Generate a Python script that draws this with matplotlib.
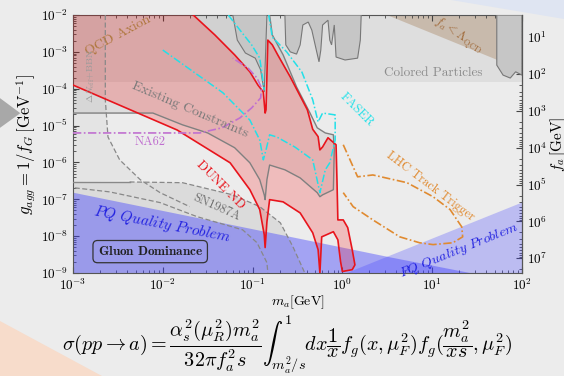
import numpy as np
import matplotlib.pyplot as plt
from matplotlib.patches import Polygon

plt.rcParams['font.family'] = 'serif'
plt.rcParams['font.serif'] = ['cmr10', 'DejaVu Serif']
plt.rcParams['mathtext.fontset'] = 'cm'
plt.rcParams['axes.formatter.use_mathtext'] = True

# g_agg = C_FA / f_a
C_FA = 10 ** -1.6

# every curve: log10(m_a/GeV), log10(g_agg GeV)
colored_lg = -3.82

dune_lm = [-3.00, -1.84, -1.25, -1.03, -0.92, -0.87, -0.86, -0.84, -0.81, -0.66, -0.47, -0.33,
           -0.27, -0.25, -0.23, -0.10, -0.05, -0.02, 0.00, 0.11, 0.14, 0.11, 0.06, 0.01, -0.05,
           -0.06, -0.07, -0.16, -0.22, -0.25, -0.27, -0.33, -0.39, -0.58, -0.72, -0.78, -0.83,
           -0.85, -0.86, -0.88, -0.94, -1.03, -1.20, -1.42, -1.66]
dune_lg = [-3.90, -5.12, -6.01, -6.74, -7.28, -7.96, -8.31, -7.61, -7.01, -7.07, -7.37, -7.91,
           -8.37, -9.00, -8.02, -7.88, -8.10, -8.69, -8.96, -8.91, -8.78, -8.37, -7.77, -7.56, -7.56,
           -6.47, -5.52, -5.33, -5.58, -5.66, -5.30, -5.10, -4.57, -3.68, -3.08, -2.81, -2.68,
           -4.57, -4.66, -4.09, -3.90, -3.54, -3.08, -2.54, -2.00]

exist_lm = [-3.00, -2.11, -1.78, -1.50, -1.20, -1.03, -0.92, -0.87, -0.86, -0.84, -0.81, -0.64,
            -0.47, -0.28, -0.25, -0.22, -0.10, -0.09, -0.10, -0.19, -0.28, -0.36, -0.51, -0.66,
            -0.78, -0.81]
exist_lg = [-4.66, -4.66, -4.98, -5.20, -5.60, -6.01, -6.47, -6.88, -7.01, -6.47, -6.07, -6.20,
            -6.42, -6.82, -6.93, -6.88, -6.74, -5.66, -5.25, -5.20, -5.06, -4.66, -3.95, -3.08,
            -2.54, -2.00]

hang1_lm = [-1.22, -1.17, -1.08, -0.97, -0.91, -0.87, -0.85, -0.84]
hang1_lg = [-2.00, -2.68, -3.03, -3.17, -3.49, -4.09, -2.68, -2.00]
hang2_lm = [-0.64, -0.63, -0.58, -0.51, -0.47, -0.44, -0.38, -0.34, -0.29, -0.26, -0.24, -0.22,
            -0.16, -0.14, -0.12, -0.09, -0.07, 0.03, 0.17, 0.20, 0.21]
hang2_lg = [-2.00, -2.81, -3.00, -3.06, -2.81, -2.27, -2.19, -2.41, -2.95, -3.27, -2.95, -2.27,
            -2.14, -2.68, -2.81, -2.27, -3.14, -3.22, -3.17, -2.68, -2.00]
hang3_lm = [1.72, 1.72, 1.79, 1.87, 1.93, 2.00, 2.00]
hang3_lg = [-2.00, -3.36, -3.63, -3.71, -3.54, -3.63, -2.00]

lqcd_lm = [0.50, 2.00, 2.00]
lqcd_lg = [-2.00, -2.00, -3.49]

faser_lm = [-2.00, -1.33, -1.03, -0.92, -0.88, -0.85, -0.81, -0.73, -0.53, -0.33, -0.25, -0.19,
            -0.14, -0.08, -0.08, -0.22, -0.27, -0.33, -0.45, -0.62, -0.78, -0.82]
faser_lg = [-2.95, -4.11, -4.85, -5.39, -5.93, -5.66, -5.25, -5.31, -5.58, -5.93, -6.82, -6.20,
            -6.01, -5.39, -4.71, -4.66, -4.90, -4.30, -3.55, -3.00, -2.60, -2.00]
faser2_lm = [-1.27, -1.14, -1.01, -0.92, -0.87]
faser2_lg = [-2.00, -2.41, -2.81, -3.17, -4.03]

na62_lm = [-3.00, -1.59, -1.34, -1.14, -1.01, -0.91, -0.90, -0.95, -1.05, -1.22]
na62_lg = [-5.20, -5.20, -5.06, -4.79, -4.52, -4.25, -3.98, -3.71, -3.44, -3.17]

sn_up_lm = [-3.00, -2.37, -1.78, -1.22, -0.92, -0.69, -0.55, -0.42]
sn_up_lg = [-6.53, -6.53, -6.55, -6.88, -7.20, -7.64, -8.29, -8.99]
sn_lo_lm = [-2.98, -2.59, -2.03, -1.62, -1.11, -0.95, -0.84, -0.83]
sn_lo_lg = [-6.69, -6.80, -7.09, -7.47, -7.83, -8.18, -8.72, -8.99]
bbn_lm = [-2.64, -2.64, -2.61, -2.48, -2.25, -2.03, -1.70]
bbn_lg = [-2.00, -4.30, -5.31, -5.93, -6.47, -6.82, -7.20]

pq_left_lm = [-3.00, -3.00, -0.58, 0.50, 1.42]
pq_left_lg = [-9.00, -6.82, -8.02, -8.56, -9.00]
pq_right_lm = [0.05, 2.00, 2.00]
pq_right_lg = [-9.00, -7.09, -9.00]

lhc_lm = [0.01, 0.17, 0.34, 0.72, 1.01, 1.20, 1.33, 1.34, 1.23, 1.01, 0.86, 0.64, 0.34, 0.12, 0.01]
lhc_lg = [-5.52, -6.39, -6.34, -6.55, -6.93, -7.28, -7.75, -8.02, -8.18, -8.23, -8.18, -8.02,
          -7.56, -7.20, -6.82]


def pts(lm, lg):
    return 10 ** np.array(lm), 10 ** np.array(lg)


def poly(ax, lm, lg, **kw):
    m, g = pts(lm, lg)
    ax.add_patch(Polygon(np.column_stack([m, g]), closed=True, **kw))


bg = '#ececec'
fig = plt.figure(figsize=(5.64, 3.76), dpi=100, facecolor=bg)

# slide decorations
fig.patches.append(Polygon([[0, 0.739], [0.036, 0.699], [0, 0.660]], closed=True,
                           transform=fig.transFigure, fc='#a8a8a8', ec='none'))
fig.patches.append(Polygon([[0, 0.145], [0, 0], [0.18, 0]], closed=True,
                           transform=fig.transFigure, fc='#f7dccb', ec='none'))
fig.patches.append(Polygon([[0.80, 1], [1, 1], [1, 0.95]], closed=True,
                           transform=fig.transFigure, fc='#dfe5f2', ec='none'))

ax = fig.add_axes([0.1294, 0.274, 0.796, 0.686])
ax.set_facecolor(bg)
ax.set_xscale('log')
ax.set_yscale('log')
ax.set_xlim(1e-3, 1e2)
ax.set_ylim(1e-9, 1e-2)

# regions
ax.axhspan(10 ** colored_lg, 1e-2, color='#808080', alpha=0.12, lw=0, zorder=1)
poly(ax, lqcd_lm, lqcd_lg, fc='#a07850', alpha=0.35, ec='none', zorder=1)
poly(ax, bbn_lm[:5] + [-3.0, -3.0], bbn_lg[:5] + [-6.53, -2.0],
     fc='#808080', alpha=0.07, ec='none', zorder=1)
poly(ax, exist_lm + [-3.0], exist_lg + [-2.0], fc='#808080', alpha=0.13, ec='none', zorder=1)
poly(ax, sn_up_lm + [-3.0], sn_up_lg + [-9.0], fc='#808080', alpha=0.15, ec='none', zorder=1)
poly(ax, pq_left_lm, pq_left_lg, fc='#4040ff', alpha=0.42, ec='none', zorder=2)
poly(ax, pq_right_lm, pq_right_lg, fc='#4040ff', alpha=0.28, ec='none', zorder=2)
poly(ax, dune_lm + [-3.0], dune_lg + [-2.0], fc='red', alpha=0.2, ec='none', zorder=3)
for lm, lg in [(hang1_lm, hang1_lg), (hang2_lm, hang2_lg), (hang3_lm, hang3_lg)]:
    poly(ax, lm, lg, fc='#c6c6c6', ec='#777777', lw=0.8, zorder=3)

# curves
ax.plot(*pts(exist_lm, exist_lg), color='#808080', lw=1.0, zorder=4)
ax.plot(*pts(sn_up_lm[:2], sn_up_lg[:2]), color='#888888', lw=1.0, zorder=4)
ax.plot(*pts(sn_up_lm[1:], sn_up_lg[1:]), color='#888888', lw=0.9, ls=(0, (4, 2)), zorder=4)
ax.plot(*pts(sn_lo_lm, sn_lo_lg), color='#888888', lw=0.9, ls=(0, (4, 2)), zorder=4)
ax.plot(*pts(bbn_lm, bbn_lg), color='#888888', lw=0.9, ls=(0, (4, 2)), zorder=4)
ax.plot(*pts(dune_lm, dune_lg), color='#e8141c', lw=1.2, zorder=5)
dashdot = (0, (5, 1.5, 1, 1.5))
ax.plot(*pts(faser_lm, faser_lg), color='#22e0e8', lw=1.1, ls=dashdot, zorder=6)
ax.plot(*pts(faser2_lm, faser2_lg), color='#22e0e8', lw=1.1, ls=dashdot, zorder=6)
ax.plot(*pts(na62_lm, na62_lg), color='#c070d0', lw=1.2, ls=dashdot, zorder=6)
ax.plot(*pts(lhc_lm, lhc_lg), color='#e08a30', lw=1.2, ls=dashdot, zorder=6)


# labels in plot
def lab(lm, lg, s, **kw):
    ax.text(10 ** lm, 10 ** lg, s, ha='center', va='center', zorder=7, **kw)


lab(-1.70, -4.57, 'Existing Constraints', rotation=-23, fontsize=10, color='#7a7a7a')
lab(-1.36, -6.62, 'DUNE ND', rotation=-45, fontsize=9.5, color='#e8141c')
lab(-1.40, -7.23, 'SN1987A', rotation=-24, fontsize=9, color='#707070')
lab(-2.00, -7.69, r'$\mathit{PQ\ Quality\ Problem}$', rotation=-11, fontsize=11, color='#2020e0')
lab(1.30, -8.40, r'$\mathit{PQ\ Quality\ Problem}$', rotation=22, fontsize=10, color='#2020e0')
lab(0.16, -4.57, 'FASER', rotation=-45, fontsize=9, color='#22e0e8')
lab(-2.14, -5.44, 'NA62', fontsize=9, color='#c070d0')
lab(-2.50, -2.57, 'QCD Axion', rotation=28, fontsize=10, color='#b07840')
lab(1.29, -2.57, r'$f_a < \Lambda_{\rm QCD}$', rotation=-33, fontsize=9, color='#a06a3a')
lab(1.01, -3.57, 'Colored Particles', fontsize=9.5, color='#8c8c8c')
lab(0.98, -6.66, 'LHC Track Trigger', rotation=-37, fontsize=9, color='#e08a30')
lab(-2.80, -3.65, r'$\Delta N_{\rm eff}$+BBN', rotation=90, fontsize=7, color='#9a9a9a')
lab(-2.14, -8.42, r'$\mathbf{Gluon\ Dominance}$', fontsize=9.5, color='#222222',
    bbox=dict(boxstyle='round,pad=0.35', fc='none', ec='#333333', lw=0.9))

# axes
ax.tick_params(which='both', direction='in', top=True, right=False, labelsize=9.5, color='#444444')
ax.tick_params(which='major', length=4)
ax.tick_params(which='minor', length=2)
for sp in ax.spines.values():
    sp.set_color('#555555')
ax.set_xlabel(r'$m_a[\mathrm{GeV}]$', fontsize=10, labelpad=0)
ax.set_ylabel(r'$g_{agg} = 1/f_G\,[\mathrm{GeV}^{-1}]$', fontsize=12, labelpad=2)


def fa_from_g(g):
    g = np.asarray(g, dtype=float)
    with np.errstate(divide='ignore'):
        return C_FA / g


sec = ax.secondary_yaxis('right', functions=(fa_from_g, fa_from_g))
sec.tick_params(which='both', direction='in', labelsize=9.5, color='#444444')
sec.tick_params(which='major', length=4)
sec.tick_params(which='minor', length=2)
sec.set_ylabel(r'$f_a\,[\mathrm{GeV}]$', fontsize=11, labelpad=1)
sec.yaxis.get_offset_text().set_visible(False)
ax.yaxis.get_offset_text().set_visible(False)

eq = (r'$\sigma(pp\rightarrow a) = \dfrac{\alpha_s^2(\mu_R^2)m_a^2}{32\pi f_a^2 s}'
      r'\int_{m_a^2/s}^{1} dx\dfrac{1}{x}f_g(x,\mu_F^2)f_g(\dfrac{m_a^2}{xs},\mu_F^2)$')
fig.text(0.11, 0.083, eq, fontsize=14.5, ha='left', va='center')

fig.savefig('out.png', dpi=100, facecolor=bg)
